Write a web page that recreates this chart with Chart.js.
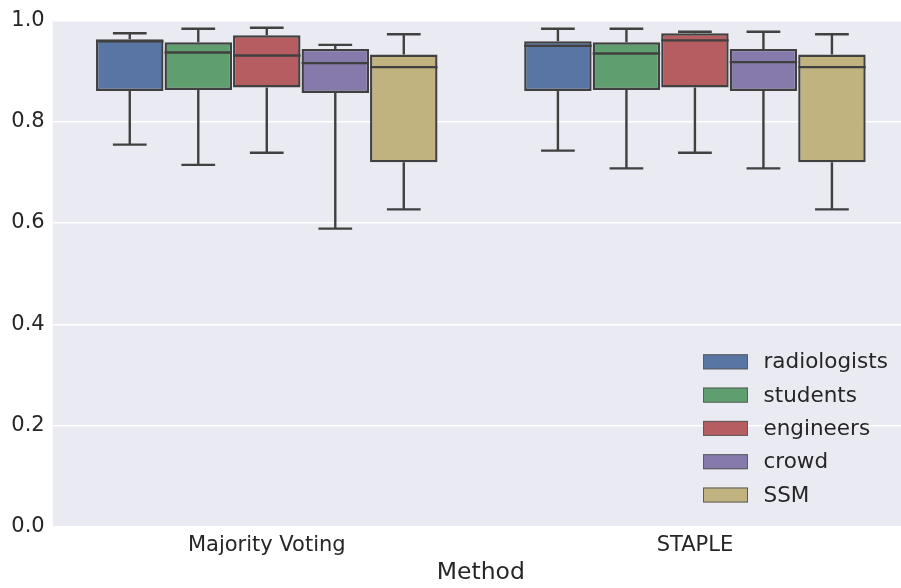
<!DOCTYPE html>
<html>
<head>
<meta charset="utf-8">
<script src="https://cdn.jsdelivr.net/npm/chart.js@4"></script>
<style>
  html, body { margin: 0; padding: 0; background: #ffffff; overflow: hidden; }
  #wrap { width: 910px; height: 588px; }
</style>
</head>
<body>
<div id="wrap"><canvas id="c" width="910" height="588"></canvas></div>
<script>
// Aggregation methods on the x axis
const methods = ['Majority Voting', 'STAPLE'];

// Rater groups, one box per group and method
const groups = ['radiologists', 'students', 'engineers', 'crowd', 'SSM'];

// Five-number summaries per method: [lower whisker, Q1, median, Q3, upper whisker]
const radiologists = [[0.755, 0.861, 0.959, 0.963, 0.975], [0.743, 0.861, 0.950, 0.959, 0.984]];
const students     = [[0.715, 0.863, 0.937, 0.957, 0.984], [0.708, 0.863, 0.935, 0.957, 0.984]];
const engineers    = [[0.739, 0.868, 0.931, 0.971, 0.986], [0.739, 0.868, 0.961, 0.975, 0.978]];
const crowd        = [[0.589, 0.857, 0.916, 0.944, 0.952], [0.708, 0.861, 0.918, 0.944, 0.978]];
const ssm          = [[0.627, 0.720, 0.908, 0.933, 0.973], [0.627, 0.720, 0.908, 0.933, 0.973]];

// Y-axis ticks
const yTicks = [0.0, 0.2, 0.4, 0.6, 0.8, 1.0];

const summaries = [radiologists, students, engineers, crowd, ssm];
const boxColors = ['#5875A3', '#5F9E6E', '#B55D60', '#857AAA', '#C1B37F'];
const lineColor = '#404040';
const textColor = '#262626';
const FONT = '"DejaVu Sans", sans-serif';
const LINE_W = 2.4;

const datasets = groups.map((name, i) => ({
  label: name,
  data: summaries[i].map(s => [s[1], s[3]]),   // box spans Q1..Q3
  stats: summaries[i],
  backgroundColor: boxColors[i],
  borderColor: lineColor,
  borderWidth: LINE_W,
  borderSkipped: false,
  categoryPercentage: 0.8,
  barPercentage: 0.985
}));

// Grey plotting area behind the grid
const plotBackground = {
  id: 'plotBackground',
  beforeDraw(chart) {
    const { ctx, chartArea: a } = chart;
    ctx.save();
    ctx.fillStyle = '#EAEAF2';
    ctx.fillRect(a.left, a.top, a.right - a.left, a.bottom - a.top);
    ctx.restore();
  }
};

// Whiskers, caps and median lines for each box
const boxDetails = {
  id: 'boxDetails',
  afterDatasetsDraw(chart) {
    const { ctx } = chart;
    const y = chart.scales.y;
    ctx.save();
    ctx.strokeStyle = lineColor;
    ctx.lineWidth = LINE_W;
    ctx.lineCap = 'butt';
    chart.data.datasets.forEach((ds, di) => {
      const meta = chart.getDatasetMeta(di);
      meta.data.forEach((bar, j) => {
        const [lo, q1, med, q3, hi] = ds.stats[j];
        const x = bar.x, w = bar.width;
        const cap = w / 4;
        ctx.beginPath();
        // upper whisker
        ctx.moveTo(x, y.getPixelForValue(q3));
        ctx.lineTo(x, y.getPixelForValue(hi));
        ctx.moveTo(x - cap, y.getPixelForValue(hi));
        ctx.lineTo(x + cap, y.getPixelForValue(hi));
        // lower whisker
        ctx.moveTo(x, y.getPixelForValue(q1));
        ctx.lineTo(x, y.getPixelForValue(lo));
        ctx.moveTo(x - cap, y.getPixelForValue(lo));
        ctx.lineTo(x + cap, y.getPixelForValue(lo));
        // median
        ctx.moveTo(x - w / 2, y.getPixelForValue(med));
        ctx.lineTo(x + w / 2, y.getPixelForValue(med));
        ctx.stroke();
      });
    });
    ctx.restore();
  }
};

// Legend inside the lower right of the plot
const boxLegend = {
  id: 'boxLegend',
  afterDraw(chart) {
    const { ctx, chartArea: a } = chart;
    const left = a.right - 206;
    const rowGap = 33.3;
    const lastY = a.bottom - 31.7;
    ctx.save();
    ctx.font = '21.5px ' + FONT;
    ctx.textBaseline = 'middle';
    ctx.textAlign = 'left';
    chart.data.datasets.forEach((ds, i) => {
      const cy = lastY - (chart.data.datasets.length - 1 - i) * rowGap;
      ctx.fillStyle = ds.backgroundColor;
      ctx.fillRect(left, cy - 7.5, 45, 15);
      ctx.strokeStyle = '#5c5c5c';
      ctx.lineWidth = 1;
      ctx.strokeRect(left + 0.5, cy - 7, 44, 14);
      ctx.fillStyle = textColor;
      ctx.fillText(ds.label, left + 60.5, cy + 1);
    });
    ctx.restore();
  }
};

new Chart(document.getElementById('c'), {
  type: 'bar',
  data: { labels: methods, datasets },
  options: {
    responsive: false,
    animation: false,
    devicePixelRatio: 1,
    layout: { padding: { top: 18.5, right: 1, bottom: 0, left: 0 } },
    plugins: { legend: { display: false }, tooltip: { enabled: false } },
    scales: {
      x: {
        grid: { display: false, drawTicks: false },
        border: { display: false },
        ticks: { color: textColor, font: { family: FONT, size: 21 }, padding: 6 },
        title: {
          display: true,
          text: 'Method',
          color: textColor,
          font: { family: FONT, size: 23.5, lineHeight: 1.2 },
          padding: { top: 0, bottom: 1 }
        },
        afterFit(s) { s.height = 61.3; }
      },
      y: {
        min: 0,
        max: 1,
        afterBuildTicks(s) { s.ticks = yTicks.map(v => ({ value: v })); },
        grid: { color: '#ffffff', lineWidth: 1.5, drawTicks: false },
        border: { display: false },
        ticks: {
          color: textColor,
          font: { family: FONT, size: 21 },
          padding: 8,
          callback: v => Number(v).toFixed(1)
        },
        afterFit(s) { s.width = 52.7; }
      }
    }
  },
  plugins: [plotBackground, boxDetails, boxLegend]
});
</script>
</body>
</html>
